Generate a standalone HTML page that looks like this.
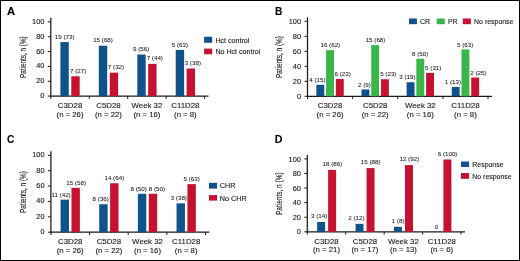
<!DOCTYPE html>
<html><head><meta charset="utf-8"><style>
html,body{margin:0;padding:0;background:#fff;}
body{width:520px;height:261px;overflow:hidden;}
svg{display:block;font-family:"Liberation Sans", sans-serif;will-change:transform;}
text{stroke:#1a1a1a;stroke-width:0.12px;paint-order:stroke;}
text.v{stroke-width:0.06px;}
</style></head><body>
<svg width="520" height="261" viewBox="0 0 520 261">
<rect x="0" y="0" width="520" height="261" fill="#fff"/>
<rect x="0.5" y="0.5" width="519" height="260" fill="none" stroke="#000" stroke-width="1"/>
<line x1="50.80" y1="17.85" x2="50.80" y2="96.70" stroke="#1a1a1a" stroke-width="1.25"/>
<line x1="50.20" y1="96.10" x2="208.50" y2="96.10" stroke="#1a1a1a" stroke-width="1.25"/>
<line x1="47.80" y1="96.10" x2="50.80" y2="96.10" stroke="#1a1a1a" stroke-width="1.0"/>
<text x="44.40" y="98.10" font-size="7.4" text-anchor="end" font-weight="normal" fill="#1a1a1a" >0</text>
<line x1="47.80" y1="81.26" x2="50.80" y2="81.26" stroke="#1a1a1a" stroke-width="1.0"/>
<text x="44.40" y="83.26" font-size="7.4" text-anchor="end" font-weight="normal" fill="#1a1a1a" >20</text>
<line x1="47.80" y1="66.42" x2="50.80" y2="66.42" stroke="#1a1a1a" stroke-width="1.0"/>
<text x="44.40" y="68.42" font-size="7.4" text-anchor="end" font-weight="normal" fill="#1a1a1a" >40</text>
<line x1="47.80" y1="51.58" x2="50.80" y2="51.58" stroke="#1a1a1a" stroke-width="1.0"/>
<text x="44.40" y="53.58" font-size="7.4" text-anchor="end" font-weight="normal" fill="#1a1a1a" >60</text>
<line x1="47.80" y1="36.74" x2="50.80" y2="36.74" stroke="#1a1a1a" stroke-width="1.0"/>
<text x="44.40" y="38.74" font-size="7.4" text-anchor="end" font-weight="normal" fill="#1a1a1a" >80</text>
<line x1="47.80" y1="21.90" x2="50.80" y2="21.90" stroke="#1a1a1a" stroke-width="1.0"/>
<text x="44.40" y="23.90" font-size="7.4" text-anchor="end" font-weight="normal" fill="#1a1a1a" >100</text>
<line x1="50.80" y1="96.10" x2="50.80" y2="98.90" stroke="#1a1a1a" stroke-width="1.0"/>
<line x1="89.25" y1="96.10" x2="89.25" y2="98.90" stroke="#1a1a1a" stroke-width="1.0"/>
<line x1="127.70" y1="96.10" x2="127.70" y2="98.90" stroke="#1a1a1a" stroke-width="1.0"/>
<line x1="166.15" y1="96.10" x2="166.15" y2="98.90" stroke="#1a1a1a" stroke-width="1.0"/>
<line x1="204.60" y1="96.10" x2="204.60" y2="98.90" stroke="#1a1a1a" stroke-width="1.0"/>
<rect x="60.38" y="42.08" width="8.40" height="54.02" fill="#10538a"/>
<text transform="translate(64.73,38.68) scale(1.06,1)" font-size="5.9" text-anchor="middle" font-weight="normal" fill="#1a1a1a" class="v">19 (73)</text>
<rect x="71.28" y="76.32" width="8.40" height="19.78" fill="#c41230"/>
<text transform="translate(78.18,72.92) scale(1.06,1)" font-size="5.9" text-anchor="middle" font-weight="normal" fill="#1a1a1a" class="v">7 (27)</text>
<text transform="translate(70.03,108.10) scale(1.035,1)" font-size="7.6" text-anchor="middle" font-weight="normal" fill="#1a1a1a" >C3D28</text>
<text transform="translate(70.03,116.60) scale(1.05,1)" font-size="7.4" text-anchor="middle" font-weight="normal" fill="#1a1a1a" >(n = 26)</text>
<rect x="98.82" y="45.71" width="8.40" height="50.39" fill="#10538a"/>
<text transform="translate(103.02,42.31) scale(1.06,1)" font-size="5.9" text-anchor="middle" font-weight="normal" fill="#1a1a1a" class="v">15 (68)</text>
<rect x="109.72" y="72.69" width="8.40" height="23.41" fill="#c41230"/>
<text transform="translate(116.02,69.29) scale(1.06,1)" font-size="5.9" text-anchor="middle" font-weight="normal" fill="#1a1a1a" class="v">7 (32)</text>
<text transform="translate(108.47,108.10) scale(1.035,1)" font-size="7.6" text-anchor="middle" font-weight="normal" fill="#1a1a1a" >C5D28</text>
<text transform="translate(108.47,116.60) scale(1.05,1)" font-size="7.4" text-anchor="middle" font-weight="normal" fill="#1a1a1a" >(n = 22)</text>
<rect x="137.28" y="54.56" width="8.40" height="41.54" fill="#10538a"/>
<text transform="translate(141.18,51.16) scale(1.06,1)" font-size="5.9" text-anchor="middle" font-weight="normal" fill="#1a1a1a" class="v">9 (56)</text>
<rect x="148.18" y="63.84" width="8.40" height="32.26" fill="#c41230"/>
<text transform="translate(154.78,60.44) scale(1.06,1)" font-size="5.9" text-anchor="middle" font-weight="normal" fill="#1a1a1a" class="v">7 (44)</text>
<text transform="translate(146.93,108.10) scale(1.035,1)" font-size="7.6" text-anchor="middle" font-weight="normal" fill="#1a1a1a" >Week 32</text>
<text transform="translate(146.93,116.60) scale(1.05,1)" font-size="7.4" text-anchor="middle" font-weight="normal" fill="#1a1a1a" >(n = 16)</text>
<rect x="175.72" y="49.93" width="8.40" height="46.17" fill="#10538a"/>
<text transform="translate(179.93,46.53) scale(1.06,1)" font-size="5.9" text-anchor="middle" font-weight="normal" fill="#1a1a1a" class="v">5 (63)</text>
<rect x="186.62" y="68.48" width="8.40" height="27.62" fill="#c41230"/>
<text transform="translate(192.82,65.08) scale(1.06,1)" font-size="5.9" text-anchor="middle" font-weight="normal" fill="#1a1a1a" class="v">3 (38)</text>
<text transform="translate(185.38,108.10) scale(1.035,1)" font-size="7.6" text-anchor="middle" font-weight="normal" fill="#1a1a1a" >C11D28</text>
<text transform="translate(185.38,116.60) scale(1.05,1)" font-size="7.4" text-anchor="middle" font-weight="normal" fill="#1a1a1a" >(n = 8)</text>
<text transform="translate(25.70,78.10) rotate(-90)" font-size="8.4" fill="#1a1a1a" textLength="41.80" lengthAdjust="spacingAndGlyphs">Patients, n (%)</text>
<text transform="translate(7.00,14.60) scale(1.1,1)" font-size="10.2" text-anchor="start" font-weight="bold" fill="#000" >A</text>
<rect x="204.10" y="36.75" width="8.15" height="6.00" fill="#10538a"/>
<text x="215.40" y="42.75" font-size="7.1" text-anchor="start" font-weight="normal" fill="#1a1a1a" >Hct control</text>
<rect x="204.10" y="48.60" width="8.15" height="5.65" fill="#c41230"/>
<text x="215.40" y="54.25" font-size="7.1" text-anchor="start" font-weight="normal" fill="#1a1a1a" >No Hct control</text>
<line x1="307.50" y1="17.30" x2="307.50" y2="96.90" stroke="#1a1a1a" stroke-width="1.25"/>
<line x1="306.90" y1="96.30" x2="491.90" y2="96.30" stroke="#1a1a1a" stroke-width="1.25"/>
<line x1="304.50" y1="96.30" x2="307.50" y2="96.30" stroke="#1a1a1a" stroke-width="1.0"/>
<text x="301.10" y="98.90" font-size="7.4" text-anchor="end" font-weight="normal" fill="#1a1a1a" >0</text>
<line x1="304.50" y1="81.30" x2="307.50" y2="81.30" stroke="#1a1a1a" stroke-width="1.0"/>
<text x="301.10" y="83.90" font-size="7.4" text-anchor="end" font-weight="normal" fill="#1a1a1a" >20</text>
<line x1="304.50" y1="66.30" x2="307.50" y2="66.30" stroke="#1a1a1a" stroke-width="1.0"/>
<text x="301.10" y="68.90" font-size="7.4" text-anchor="end" font-weight="normal" fill="#1a1a1a" >40</text>
<line x1="304.50" y1="51.30" x2="307.50" y2="51.30" stroke="#1a1a1a" stroke-width="1.0"/>
<text x="301.10" y="53.90" font-size="7.4" text-anchor="end" font-weight="normal" fill="#1a1a1a" >60</text>
<line x1="304.50" y1="36.30" x2="307.50" y2="36.30" stroke="#1a1a1a" stroke-width="1.0"/>
<text x="301.10" y="38.90" font-size="7.4" text-anchor="end" font-weight="normal" fill="#1a1a1a" >80</text>
<line x1="304.50" y1="21.30" x2="307.50" y2="21.30" stroke="#1a1a1a" stroke-width="1.0"/>
<text x="301.10" y="23.90" font-size="7.4" text-anchor="end" font-weight="normal" fill="#1a1a1a" >100</text>
<line x1="307.50" y1="96.30" x2="307.50" y2="99.10" stroke="#1a1a1a" stroke-width="1.0"/>
<line x1="352.62" y1="96.30" x2="352.62" y2="99.10" stroke="#1a1a1a" stroke-width="1.0"/>
<line x1="397.75" y1="96.30" x2="397.75" y2="99.10" stroke="#1a1a1a" stroke-width="1.0"/>
<line x1="442.88" y1="96.30" x2="442.88" y2="99.10" stroke="#1a1a1a" stroke-width="1.0"/>
<line x1="488.00" y1="96.30" x2="488.00" y2="99.10" stroke="#1a1a1a" stroke-width="1.0"/>
<rect x="316.36" y="84.76" width="7.90" height="11.54" fill="#10538a"/>
<text transform="translate(317.41,81.96) scale(1.06,1)" font-size="5.9" text-anchor="middle" font-weight="normal" fill="#1a1a1a" class="v">4 (15)</text>
<rect x="326.11" y="50.15" width="7.90" height="46.15" fill="#3ab54a"/>
<text transform="translate(330.31,47.35) scale(1.06,1)" font-size="5.9" text-anchor="middle" font-weight="normal" fill="#1a1a1a" class="v">16 (62)</text>
<rect x="335.86" y="78.99" width="7.90" height="17.31" fill="#c41230"/>
<text transform="translate(342.61,76.19) scale(1.06,1)" font-size="5.9" text-anchor="middle" font-weight="normal" fill="#1a1a1a" class="v">6 (23)</text>
<text transform="translate(330.06,108.30) scale(1.035,1)" font-size="7.6" text-anchor="middle" font-weight="normal" fill="#1a1a1a" >C3D28</text>
<text transform="translate(330.06,116.80) scale(1.05,1)" font-size="7.4" text-anchor="middle" font-weight="normal" fill="#1a1a1a" >(n = 26)</text>
<rect x="361.49" y="89.48" width="7.90" height="6.82" fill="#10538a"/>
<text transform="translate(364.34,86.68) scale(1.06,1)" font-size="5.9" text-anchor="middle" font-weight="normal" fill="#1a1a1a" class="v">2 (9)</text>
<rect x="371.24" y="45.16" width="7.90" height="51.14" fill="#3ab54a"/>
<text transform="translate(375.54,42.36) scale(1.06,1)" font-size="5.9" text-anchor="middle" font-weight="normal" fill="#1a1a1a" class="v">15 (68)</text>
<rect x="380.99" y="79.25" width="7.90" height="17.05" fill="#c41230"/>
<text transform="translate(388.29,76.45) scale(1.06,1)" font-size="5.9" text-anchor="middle" font-weight="normal" fill="#1a1a1a" class="v">5 (23)</text>
<text transform="translate(375.19,108.30) scale(1.035,1)" font-size="7.6" text-anchor="middle" font-weight="normal" fill="#1a1a1a" >C5D28</text>
<text transform="translate(375.19,116.80) scale(1.05,1)" font-size="7.4" text-anchor="middle" font-weight="normal" fill="#1a1a1a" >(n = 22)</text>
<rect x="406.61" y="82.24" width="7.90" height="14.06" fill="#10538a"/>
<text transform="translate(407.46,79.44) scale(1.06,1)" font-size="5.9" text-anchor="middle" font-weight="normal" fill="#1a1a1a" class="v">3 (19)</text>
<rect x="416.36" y="58.80" width="7.90" height="37.50" fill="#3ab54a"/>
<text transform="translate(420.21,56.00) scale(1.06,1)" font-size="5.9" text-anchor="middle" font-weight="normal" fill="#1a1a1a" class="v">8 (50)</text>
<rect x="426.11" y="72.86" width="7.90" height="23.44" fill="#c41230"/>
<text transform="translate(433.26,70.06) scale(1.06,1)" font-size="5.9" text-anchor="middle" font-weight="normal" fill="#1a1a1a" class="v">5 (31)</text>
<text transform="translate(420.31,108.30) scale(1.035,1)" font-size="7.6" text-anchor="middle" font-weight="normal" fill="#1a1a1a" >Week 32</text>
<text transform="translate(420.31,116.80) scale(1.05,1)" font-size="7.4" text-anchor="middle" font-weight="normal" fill="#1a1a1a" >(n = 16)</text>
<rect x="451.74" y="86.92" width="7.90" height="9.38" fill="#10538a"/>
<text transform="translate(452.84,84.12) scale(1.06,1)" font-size="5.9" text-anchor="middle" font-weight="normal" fill="#1a1a1a" class="v">1 (13)</text>
<rect x="461.49" y="49.42" width="7.90" height="46.88" fill="#3ab54a"/>
<text transform="translate(465.19,46.62) scale(1.06,1)" font-size="5.9" text-anchor="middle" font-weight="normal" fill="#1a1a1a" class="v">5 (63)</text>
<rect x="471.24" y="77.55" width="7.90" height="18.75" fill="#c41230"/>
<text transform="translate(478.44,74.75) scale(1.06,1)" font-size="5.9" text-anchor="middle" font-weight="normal" fill="#1a1a1a" class="v">2 (25)</text>
<text transform="translate(465.44,108.30) scale(1.035,1)" font-size="7.6" text-anchor="middle" font-weight="normal" fill="#1a1a1a" >C11D28</text>
<text transform="translate(465.44,116.80) scale(1.05,1)" font-size="7.4" text-anchor="middle" font-weight="normal" fill="#1a1a1a" >(n = 8)</text>
<text transform="translate(282.20,78.10) rotate(-90)" font-size="8.4" fill="#1a1a1a" textLength="42.00" lengthAdjust="spacingAndGlyphs">Patients, n (%)</text>
<text x="275.10" y="14.70" font-size="10.2" text-anchor="start" font-weight="bold" fill="#000" >B</text>
<rect x="409.00" y="18.50" width="7.90" height="5.70" fill="#10538a"/>
<text x="420.00" y="24.15" font-size="6.95" text-anchor="start" font-weight="normal" fill="#1a1a1a" >CR</text>
<rect x="436.70" y="18.50" width="8.10" height="5.70" fill="#3ab54a"/>
<text x="447.90" y="24.15" font-size="6.95" text-anchor="start" font-weight="normal" fill="#1a1a1a" >PR</text>
<rect x="462.80" y="18.50" width="8.10" height="5.70" fill="#c41230"/>
<text x="474.10" y="24.15" font-size="6.95" text-anchor="start" font-weight="normal" fill="#1a1a1a" >No response</text>
<line x1="50.90" y1="151.30" x2="50.90" y2="232.80" stroke="#1a1a1a" stroke-width="1.25"/>
<line x1="50.30" y1="232.20" x2="209.20" y2="232.20" stroke="#1a1a1a" stroke-width="1.25"/>
<line x1="47.90" y1="232.20" x2="50.90" y2="232.20" stroke="#1a1a1a" stroke-width="1.0"/>
<text x="44.50" y="234.20" font-size="7.4" text-anchor="end" font-weight="normal" fill="#1a1a1a" >0</text>
<line x1="47.90" y1="216.82" x2="50.90" y2="216.82" stroke="#1a1a1a" stroke-width="1.0"/>
<text x="44.50" y="218.82" font-size="7.4" text-anchor="end" font-weight="normal" fill="#1a1a1a" >20</text>
<line x1="47.90" y1="201.44" x2="50.90" y2="201.44" stroke="#1a1a1a" stroke-width="1.0"/>
<text x="44.50" y="203.44" font-size="7.4" text-anchor="end" font-weight="normal" fill="#1a1a1a" >40</text>
<line x1="47.90" y1="186.06" x2="50.90" y2="186.06" stroke="#1a1a1a" stroke-width="1.0"/>
<text x="44.50" y="188.06" font-size="7.4" text-anchor="end" font-weight="normal" fill="#1a1a1a" >60</text>
<line x1="47.90" y1="170.68" x2="50.90" y2="170.68" stroke="#1a1a1a" stroke-width="1.0"/>
<text x="44.50" y="172.68" font-size="7.4" text-anchor="end" font-weight="normal" fill="#1a1a1a" >80</text>
<line x1="47.90" y1="155.30" x2="50.90" y2="155.30" stroke="#1a1a1a" stroke-width="1.0"/>
<text x="44.50" y="157.30" font-size="7.4" text-anchor="end" font-weight="normal" fill="#1a1a1a" >100</text>
<line x1="50.90" y1="232.20" x2="50.90" y2="235.00" stroke="#1a1a1a" stroke-width="1.0"/>
<line x1="89.55" y1="232.20" x2="89.55" y2="235.00" stroke="#1a1a1a" stroke-width="1.0"/>
<line x1="128.20" y1="232.20" x2="128.20" y2="235.00" stroke="#1a1a1a" stroke-width="1.0"/>
<line x1="166.85" y1="232.20" x2="166.85" y2="235.00" stroke="#1a1a1a" stroke-width="1.0"/>
<line x1="205.50" y1="232.20" x2="205.50" y2="235.00" stroke="#1a1a1a" stroke-width="1.0"/>
<rect x="60.57" y="199.67" width="8.40" height="32.53" fill="#10538a"/>
<text transform="translate(61.02,196.67) scale(1.06,1)" font-size="5.9" text-anchor="middle" font-weight="normal" fill="#1a1a1a" class="v">11 (42)</text>
<rect x="71.47" y="187.83" width="8.40" height="44.37" fill="#c41230"/>
<text transform="translate(76.08,184.83) scale(1.06,1)" font-size="5.9" text-anchor="middle" font-weight="normal" fill="#1a1a1a" class="v">15 (58)</text>
<text transform="translate(70.22,244.20) scale(1.035,1)" font-size="7.6" text-anchor="middle" font-weight="normal" fill="#1a1a1a" >C3D28</text>
<text transform="translate(70.22,252.70) scale(1.05,1)" font-size="7.4" text-anchor="middle" font-weight="normal" fill="#1a1a1a" >(n = 26)</text>
<rect x="99.22" y="204.24" width="8.40" height="27.96" fill="#10538a"/>
<text transform="translate(100.77,201.24) scale(1.06,1)" font-size="5.9" text-anchor="middle" font-weight="normal" fill="#1a1a1a" class="v">8 (36)</text>
<rect x="110.12" y="183.26" width="8.40" height="48.94" fill="#c41230"/>
<text transform="translate(114.33,180.26) scale(1.06,1)" font-size="5.9" text-anchor="middle" font-weight="normal" fill="#1a1a1a" class="v">14 (64)</text>
<text transform="translate(108.88,244.20) scale(1.035,1)" font-size="7.6" text-anchor="middle" font-weight="normal" fill="#1a1a1a" >C5D28</text>
<text transform="translate(108.88,252.70) scale(1.05,1)" font-size="7.4" text-anchor="middle" font-weight="normal" fill="#1a1a1a" >(n = 22)</text>
<rect x="137.88" y="193.75" width="8.40" height="38.45" fill="#10538a"/>
<text transform="translate(138.72,190.75) scale(1.06,1)" font-size="5.9" text-anchor="middle" font-weight="normal" fill="#1a1a1a" class="v">8 (50)</text>
<rect x="148.78" y="193.75" width="8.40" height="38.45" fill="#c41230"/>
<text transform="translate(156.88,190.75) scale(1.06,1)" font-size="5.9" text-anchor="middle" font-weight="normal" fill="#1a1a1a" class="v">8 (50)</text>
<text transform="translate(147.53,244.20) scale(1.035,1)" font-size="7.6" text-anchor="middle" font-weight="normal" fill="#1a1a1a" >Week 32</text>
<text transform="translate(147.53,252.70) scale(1.05,1)" font-size="7.4" text-anchor="middle" font-weight="normal" fill="#1a1a1a" >(n = 16)</text>
<rect x="176.53" y="203.36" width="8.40" height="28.84" fill="#10538a"/>
<text transform="translate(178.78,200.36) scale(1.06,1)" font-size="5.9" text-anchor="middle" font-weight="normal" fill="#1a1a1a" class="v">3 (38)</text>
<rect x="187.43" y="184.14" width="8.40" height="48.06" fill="#c41230"/>
<text transform="translate(191.62,181.14) scale(1.06,1)" font-size="5.9" text-anchor="middle" font-weight="normal" fill="#1a1a1a" class="v">5 (63)</text>
<text transform="translate(186.18,244.20) scale(1.035,1)" font-size="7.6" text-anchor="middle" font-weight="normal" fill="#1a1a1a" >C11D28</text>
<text transform="translate(186.18,252.70) scale(1.05,1)" font-size="7.4" text-anchor="middle" font-weight="normal" fill="#1a1a1a" >(n = 8)</text>
<text transform="translate(25.80,213.10) rotate(-90)" font-size="8.4" fill="#1a1a1a" textLength="42.00" lengthAdjust="spacingAndGlyphs">Patients, n (%)</text>
<text x="7.00" y="142.60" font-size="10.2" text-anchor="start" font-weight="bold" fill="#000" >C</text>
<rect x="209.00" y="182.80" width="8.10" height="5.80" fill="#10538a"/>
<text x="219.80" y="188.40" font-size="7.25" text-anchor="start" font-weight="normal" fill="#1a1a1a" >CHR</text>
<rect x="209.00" y="195.10" width="8.10" height="5.50" fill="#c41230"/>
<text x="219.80" y="200.50" font-size="7.25" text-anchor="start" font-weight="normal" fill="#1a1a1a" >No CHR</text>
<line x1="307.30" y1="155.10" x2="307.30" y2="232.40" stroke="#1a1a1a" stroke-width="1.25"/>
<line x1="306.70" y1="231.80" x2="465.00" y2="231.80" stroke="#1a1a1a" stroke-width="1.25"/>
<line x1="304.30" y1="231.80" x2="307.30" y2="231.80" stroke="#1a1a1a" stroke-width="1.0"/>
<text x="300.90" y="234.40" font-size="7.4" text-anchor="end" font-weight="normal" fill="#1a1a1a" >0</text>
<line x1="304.30" y1="217.22" x2="307.30" y2="217.22" stroke="#1a1a1a" stroke-width="1.0"/>
<text x="300.90" y="219.82" font-size="7.4" text-anchor="end" font-weight="normal" fill="#1a1a1a" >20</text>
<line x1="304.30" y1="202.64" x2="307.30" y2="202.64" stroke="#1a1a1a" stroke-width="1.0"/>
<text x="300.90" y="205.24" font-size="7.4" text-anchor="end" font-weight="normal" fill="#1a1a1a" >40</text>
<line x1="304.30" y1="188.06" x2="307.30" y2="188.06" stroke="#1a1a1a" stroke-width="1.0"/>
<text x="300.90" y="190.66" font-size="7.4" text-anchor="end" font-weight="normal" fill="#1a1a1a" >60</text>
<line x1="304.30" y1="173.48" x2="307.30" y2="173.48" stroke="#1a1a1a" stroke-width="1.0"/>
<text x="300.90" y="176.08" font-size="7.4" text-anchor="end" font-weight="normal" fill="#1a1a1a" >80</text>
<line x1="304.30" y1="158.90" x2="307.30" y2="158.90" stroke="#1a1a1a" stroke-width="1.0"/>
<text x="300.90" y="161.50" font-size="7.4" text-anchor="end" font-weight="normal" fill="#1a1a1a" >100</text>
<line x1="307.30" y1="231.80" x2="307.30" y2="234.60" stroke="#1a1a1a" stroke-width="1.0"/>
<line x1="345.73" y1="231.80" x2="345.73" y2="234.60" stroke="#1a1a1a" stroke-width="1.0"/>
<line x1="384.16" y1="231.80" x2="384.16" y2="234.60" stroke="#1a1a1a" stroke-width="1.0"/>
<line x1="422.59" y1="231.80" x2="422.59" y2="234.60" stroke="#1a1a1a" stroke-width="1.0"/>
<line x1="461.02" y1="231.80" x2="461.02" y2="234.60" stroke="#1a1a1a" stroke-width="1.0"/>
<rect x="317.12" y="221.99" width="8.00" height="9.81" fill="#10538a"/>
<text transform="translate(319.22,218.19) scale(1.06,1)" font-size="5.9" text-anchor="middle" font-weight="normal" fill="#1a1a1a" class="v">3 (14)</text>
<rect x="328.12" y="169.91" width="8.00" height="61.89" fill="#c41230"/>
<text transform="translate(332.37,166.11) scale(1.06,1)" font-size="5.9" text-anchor="middle" font-weight="normal" fill="#1a1a1a" class="v">18 (86)</text>
<text transform="translate(326.51,243.80) scale(1.035,1)" font-size="7.6" text-anchor="middle" font-weight="normal" fill="#1a1a1a" >C3D28</text>
<text transform="translate(326.51,252.30) scale(1.05,1)" font-size="7.4" text-anchor="middle" font-weight="normal" fill="#1a1a1a" >(n = 21)</text>
<rect x="355.55" y="223.82" width="8.00" height="7.98" fill="#10538a"/>
<text transform="translate(356.40,220.02) scale(1.06,1)" font-size="5.9" text-anchor="middle" font-weight="normal" fill="#1a1a1a" class="v">2 (12)</text>
<rect x="366.55" y="168.08" width="8.00" height="63.72" fill="#c41230"/>
<text transform="translate(370.75,164.28) scale(1.06,1)" font-size="5.9" text-anchor="middle" font-weight="normal" fill="#1a1a1a" class="v">15 (88)</text>
<text transform="translate(364.94,243.80) scale(1.035,1)" font-size="7.6" text-anchor="middle" font-weight="normal" fill="#1a1a1a" >C5D28</text>
<text transform="translate(364.94,252.30) scale(1.05,1)" font-size="7.4" text-anchor="middle" font-weight="normal" fill="#1a1a1a" >(n = 17)</text>
<rect x="393.98" y="226.79" width="8.00" height="5.01" fill="#10538a"/>
<text transform="translate(398.08,222.99) scale(1.06,1)" font-size="5.9" text-anchor="middle" font-weight="normal" fill="#1a1a1a" class="v">1 (8)</text>
<rect x="404.98" y="165.11" width="8.00" height="66.69" fill="#c41230"/>
<text transform="translate(409.33,161.31) scale(1.06,1)" font-size="5.9" text-anchor="middle" font-weight="normal" fill="#1a1a1a" class="v">12 (92)</text>
<text transform="translate(403.38,243.80) scale(1.035,1)" font-size="7.6" text-anchor="middle" font-weight="normal" fill="#1a1a1a" >Week 32</text>
<text transform="translate(403.38,252.30) scale(1.05,1)" font-size="7.4" text-anchor="middle" font-weight="normal" fill="#1a1a1a" >(n = 13)</text>
<text transform="translate(436.41,228.60) scale(1.06,1)" font-size="5.9" text-anchor="middle" font-weight="normal" fill="#1a1a1a" class="v">0</text>
<rect x="443.41" y="159.50" width="8.00" height="72.30" fill="#c41230"/>
<text transform="translate(447.56,155.70) scale(1.06,1)" font-size="5.9" text-anchor="middle" font-weight="normal" fill="#1a1a1a" class="v">6 (100)</text>
<text transform="translate(441.81,243.80) scale(1.035,1)" font-size="7.6" text-anchor="middle" font-weight="normal" fill="#1a1a1a" >C11D28</text>
<text transform="translate(441.81,252.30) scale(1.05,1)" font-size="7.4" text-anchor="middle" font-weight="normal" fill="#1a1a1a" >(n = 6)</text>
<text transform="translate(282.20,215.10) rotate(-90)" font-size="8.4" fill="#1a1a1a" textLength="42.80" lengthAdjust="spacingAndGlyphs">Patients, n (%)</text>
<text transform="translate(274.80,142.60) scale(1.04,1)" font-size="10.2" text-anchor="start" font-weight="bold" fill="#000" >D</text>
<rect x="461.00" y="161.50" width="8.10" height="5.50" fill="#10538a"/>
<text x="472.30" y="166.70" font-size="6.95" text-anchor="start" font-weight="normal" fill="#1a1a1a" >Response</text>
<rect x="461.00" y="173.00" width="8.10" height="5.80" fill="#c41230"/>
<text x="472.30" y="178.50" font-size="6.95" text-anchor="start" font-weight="normal" fill="#1a1a1a" >No response</text>
</svg>
</body></html>
